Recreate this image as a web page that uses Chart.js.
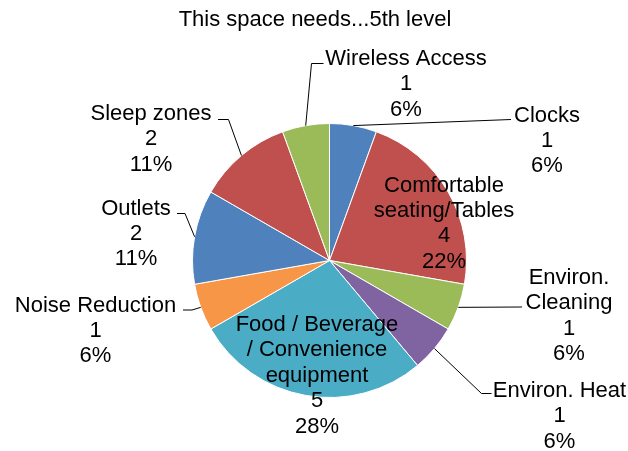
<!DOCTYPE html>
<html>
<head>
<meta charset="utf-8">
<script src="https://cdn.jsdelivr.net/npm/chart.js@4"></script>
<style>
  html, body { margin: 0; padding: 0; background: #fff; }
  canvas { display: block; }
</style>
</head>
<body>
<canvas id="pie" width="628" height="451"></canvas>
<script>
// ── Data ──────────────────────────────────────────────────────────────────────
const TITLE = "This space needs...5th level";
const categories = [
  "Clocks",
  "Comfortable\nseating/Tables",
  "Environ.\nCleaning",
  "Environ. Heat",
  "Food / Beverage\n/ Convenience\nequipment",
  "Noise Reduction",
  "Outlets",
  "Sleep zones",
  "Wireless Access",
];
const counts = [1, 4, 1, 1, 5, 1, 2, 2, 1];
const colors = [
  "#4F81BD", "#C0504D", "#9BBB59", "#8064A2", "#4BACC6",
  "#F79646", "#4F81BD", "#C0504D", "#9BBB59",
];

// ── Label placement (text centre x, first baseline, leader bend points) ──────
const LABEL_LAYOUT = [
  { x: 547, y: 121.5, leader: [[511, 119.5]] },
  { x: 444, y: 191.5, leader: null },
  { x: 569, y: 284,   leader: [[522, 307]] },
  { x: 559.5, y: 397, leader: [[481.5, 393.5], [491.5, 393.5]] },
  { x: 317, y: 331,   leader: null },
  { x: 95.5, y: 311.5, leader: [[192, 310], [183, 310]] },
  { x: 136, y: 214.5, leader: [[185, 213.5], [177, 213.5]] },
  { x: 151, y: 120,   leader: [[228.5, 119.5], [218, 119.5]] },
  { x: 406, y: 65,    leader: [[311.5, 63.5], [323.5, 63.5]] },
];

const FONT = '22px "Liberation Sans", Arial, sans-serif';
const LINE_H = 25.4;

// ── Data labels + leader lines ───────────────────────────────────────────────
const pieLabels = {
  id: "pieLabels",
  afterDraw(chart) {
    const ctx = chart.ctx;
    const total = counts.reduce((a, b) => a + b, 0);
    const arcs = chart.getDatasetMeta(0).data;
    ctx.save();
    ctx.font = FONT;
    ctx.fillStyle = "#000";
    ctx.textAlign = "center";
    ctx.textBaseline = "alphabetic";
    ctx.fillText(TITLE, 315, 26);

    arcs.forEach((arc, i) => {
      const { x, y, startAngle, endAngle, outerRadius } =
        arc.getProps(["x", "y", "startAngle", "endAngle", "outerRadius"], true);
      const lay = LABEL_LAYOUT[i];
      if (lay.leader) {
        const mid = (startAngle + endAngle) / 2;
        ctx.beginPath();
        ctx.moveTo(x + Math.cos(mid) * outerRadius, y + Math.sin(mid) * outerRadius);
        lay.leader.forEach(([px, py]) => ctx.lineTo(px, py));
        ctx.strokeStyle = "#000";
        ctx.lineWidth = 1;
        ctx.stroke();
      }
      const lines = categories[i].split("\n")
        .concat([String(counts[i]), Math.round(counts[i] / total * 100) + "%"]);
      lines.forEach((t, k) => ctx.fillText(t, lay.x, lay.y + k * LINE_H));
    });
    ctx.restore();
  }
};

// ── Chart ────────────────────────────────────────────────────────────────────
new Chart(document.getElementById("pie"), {
  type: "pie",
  data: {
    labels: categories,
    datasets: [{
      data: counts,
      backgroundColor: colors,
      borderColor: "#ffffff",
      borderWidth: 1,
    }]
  },
  options: {
    responsive: false,
    animation: false,
    layout: { padding: { left: 192, right: 161, top: 123, bottom: 53 } },
    plugins: {
      legend: { display: false },
      tooltip: { enabled: false },
      title: { display: false },
    }
  },
  plugins: [pieLabels]
});
</script>
</body>
</html>
